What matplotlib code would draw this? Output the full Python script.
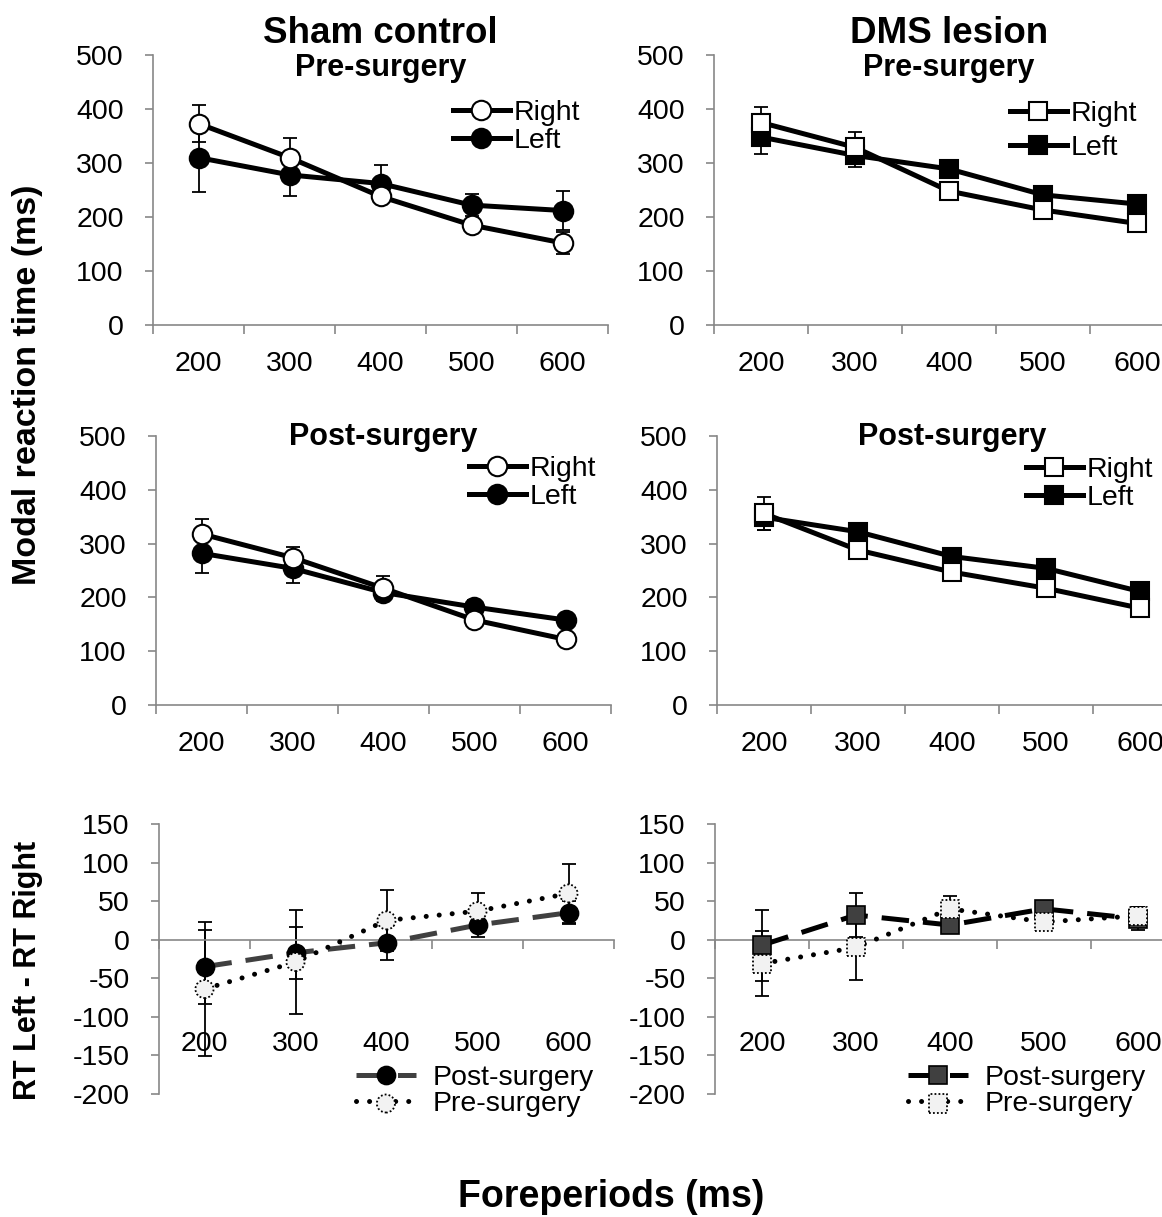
import numpy as np
import matplotlib.pyplot as plt
from matplotlib.legend_handler import HandlerTuple

plt.rcParams['font.family'] = ['Liberation Sans', 'DejaVu Sans']
plt.rcParams['axes.unicode_minus'] = False

foreperiods = ['200', '300', '400', '500', '600']

# Sham control - modal RT (ms) and SEM
sham_pre_right = [373, 310, 238, 185, 152]
sham_pre_right_se = [34, 36, 10, 10, 20]
sham_pre_left = [310, 278, 262, 222, 212]
sham_pre_left_se = [63, 40, 34, 21, 36]
sham_post_right = [318, 274, 217, 158, 122]
sham_post_right_se = [27, 20, 22, 10, 8]
sham_post_left = [282, 254, 209, 182, 158]
sham_post_left_se = [36, 27, 15, 14, 10]

# DMS lesion
dms_pre_right = [375, 329, 248, 213, 188]
dms_pre_right_se = [28, 28, 8, 8, 8]
dms_pre_left = [348, 314, 289, 241, 224]
dms_pre_left_se = [31, 22, 10, 10, 10]
dms_post_right = [356, 288, 247, 217, 180]
dms_post_right_se = [31, 8, 8, 8, 8]
dms_post_left = [349, 322, 276, 254, 211]
dms_post_left_se = [24, 10, 8, 8, 8]

# RT Left - RT Right
sham_diff_post = [-35, -17, -4, 19, 35]
sham_diff_post_se = [48, 34, 22, 16, 15]
sham_diff_pre = [-64, -29, 25, 37, 60]
sham_diff_pre_se = [87, 67, 40, 23, 38]
dms_diff_post = [-7, 32, 19, 40, 27]
dms_diff_post_se = [46, 29, 10, 5, 15]
dms_diff_pre = [-31, -10, 40, 23, 31]
dms_diff_pre_se = [42, 42, 17, 5, 12]

W, H = 1162, 1217
gray = '#878787'
light = '#f2f2f2'
dark = '#404040'
fs = 20.5      # tick labels
lfs = 20.5     # legends

fig = plt.figure(figsize=(W / 100, H / 100), dpi=100)


def make_axes(x0, y0, x1, y1):
    # pixel box -> figure fraction
    return fig.add_axes([x0 / W, 1 - y1 / H, (x1 - x0) / W, (y1 - y0) / H])


def setup(ax, ylim, yticks, label_pad):
    ax.set_xlim(0.5, 5.5)
    ax.set_ylim(*ylim)
    ax.patch.set_alpha(0)
    for s in ['top', 'right']:
        ax.spines[s].set_visible(False)
    for s in ['left', 'bottom']:
        ax.spines[s].set_color(gray)
        ax.spines[s].set_linewidth(1.2)
    ax.spines['bottom'].set_position(('data', 0))
    ax.set_xticks(np.arange(0.5, 6, 1))
    ax.set_xticklabels([])
    ax.set_xticks(np.arange(1, 6), foreperiods, minor=True)
    ax.tick_params(axis='x', which='major', direction='out', length=6.5,
                   width=1.2, color=gray)
    ax.tick_params(axis='x', which='minor', length=0, pad=label_pad,
                   labelsize=fs)
    ax.set_yticks(yticks)
    ax.tick_params(axis='y', direction='out', length=6, width=1.2,
                   color=gray, pad=15, labelsize=fs)


def rt_panel(ax, right, right_se, left, left_se, marker, ms, title, ty, leg_xy, lsp):
    x = np.arange(1, 6)
    setup(ax, (0, 500), range(0, 501, 100), 19)
    ax.errorbar(x, right, yerr=right_se, fmt='none', ecolor='k',
                elinewidth=1.3, capsize=5, capthick=1.3, zorder=2)
    ax.errorbar(x, left, yerr=left_se, fmt='none', ecolor='k',
                elinewidth=1.3, capsize=5, capthick=1.3, zorder=2)
    l_left, = ax.plot(x, left, color='k', lw=3.6, marker=marker, ms=ms,
                      mfc='k', mec='k', mew=1.5, zorder=3, label='Left')
    l_right, = ax.plot(x, right, color='k', lw=3.6, marker=marker, ms=ms,
                       mfc='white', mec='k', mew=1.5, zorder=4, label='Right')
    ax.text(0.5, ty, title, transform=ax.transAxes, ha='center',
            va='baseline', fontsize=22, fontweight='bold')
    ax.legend([l_right, l_left], ['Right', 'Left'], loc='center left',
              bbox_to_anchor=(leg_xy[0] / W, 1 - leg_xy[1] / H),
              bbox_transform=fig.transFigure, frameon=False, fontsize=lfs,
              handlelength=2.0, handletextpad=0.12, labelspacing=lsp,
              borderpad=0, borderaxespad=0, numpoints=1)


def diff_panel(ax, post, post_se, pre, pre_se, marker, ms, post_line, post_face, leg_xy):
    x = np.arange(1, 6)
    setup(ax, (-200, 150), range(-200, 151, 50), 66)
    ax.errorbar(x, post, yerr=post_se, fmt='none', ecolor='k',
                elinewidth=1.3, capsize=5, capthick=1.3, zorder=2)
    ax.errorbar(x, pre, yerr=pre_se, fmt='none', ecolor='k',
                elinewidth=1.3, capsize=5, capthick=1.3, zorder=2)
    l_post, = ax.plot(x, post, color=post_line, lw=3.6, dashes=(5.5, 2.8),
                      marker=marker, ms=ms, mfc=post_face, mec='k', mew=1.2,
                      zorder=3)
    l_pre, = ax.plot(x, pre, color='k', lw=3.6, dashes=(0.01, 2.6),
                     dash_capstyle='round', zorder=4)
    s_pre = ax.scatter(x, pre, s=ms ** 2, marker=marker, facecolor=light,
                       edgecolor='k', linewidths=1.3, linestyle=(0, (1, 1.2)),
                       zorder=5)
    ax.legend([l_post, (l_pre, s_pre)], ['Post-surgery', 'Pre-surgery'],
              handler_map={tuple: HandlerTuple(ndivide=1)},
              loc='center left',
              bbox_to_anchor=(leg_xy[0] / W, 1 - leg_xy[1] / H),
              bbox_transform=fig.transFigure, frameon=False, fontsize=lfs,
              handlelength=2.1, handletextpad=0.6, labelspacing=0.0,
              borderpad=0, borderaxespad=0, numpoints=1, scatterpoints=1)


ax_a = make_axes(153, 55, 608, 325)
ax_b = make_axes(714, 55, 1184, 325)
ax_c = make_axes(156, 436, 611, 705)
ax_d = make_axes(717, 436, 1187, 705)
ax_e = make_axes(159, 824, 614, 1094)
ax_f = make_axes(715, 824, 1185, 1094)

rt_panel(ax_a, sham_pre_right, sham_pre_right_se, sham_pre_left, sham_pre_left_se,
         'o', 14, 'Pre-surgery', 0.922, (453, 127), 0.05)
rt_panel(ax_b, dms_pre_right, dms_pre_right_se, dms_pre_left, dms_pre_left_se,
         's', 13, 'Pre-surgery', 0.922, (1010, 131), 0.3)
rt_panel(ax_c, sham_post_right, sham_post_right_se, sham_post_left, sham_post_left_se,
         'o', 14, 'Post-surgery', 0.967, (469, 483), 0.05)
rt_panel(ax_d, dms_post_right, dms_post_right_se, dms_post_left, dms_post_left_se,
         's', 13, 'Post-surgery', 0.967, (1026, 484), 0.1)
diff_panel(ax_e, sham_diff_post, sham_diff_post_se, sham_diff_pre, sham_diff_pre_se,
           'o', 13, dark, 'k', (356, 1091))
diff_panel(ax_f, dms_diff_post, dms_diff_post_se, dms_diff_pre, dms_diff_pre_se,
           's', 13, 'k', dark, (908, 1091))

# group titles
ax_a.text(0.5, 1.044, 'Sham control', transform=ax_a.transAxes, ha='center',
          va='baseline', fontsize=26.5, fontweight='bold')
ax_b.text(0.5, 1.044, 'DMS lesion', transform=ax_b.transAxes, ha='center',
          va='baseline', fontsize=26.5, fontweight='bold')

fig.text(28 / W, 1 - 385 / H, 'Modal reaction time (ms)', rotation=90,
         ha='center', va='center', fontsize=24.5, fontweight='bold')
fig.text(28 / W, 1 - 970 / H, 'RT Left - RT Right', rotation=90,
         ha='center', va='center', fontsize=22, fontweight='bold')
fig.text(611 / W, 1 - 1207 / H, 'Foreperiods (ms)', ha='center',
         va='baseline', fontsize=27, fontweight='bold')

fig.savefig('out.png', dpi=100, facecolor='white')
